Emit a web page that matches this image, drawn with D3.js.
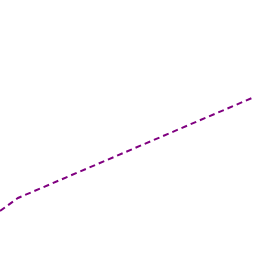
<!DOCTYPE html>
<html>
<head>
<meta charset="utf-8">
<script src="https://cdn.jsdelivr.net/npm/d3@7"></script>
<style>
  body { margin: 0; background: #fff; }
</style>
</head>
<body>
<svg class="chart"></svg>
<script>
// series values
var xValues = [0, 1.5, 21];
var yValues = [3.9, 5.2, 15.2];

var width = 256, height = 256;

var svg = d3.select(".chart")
  .attr("width", width)
  .attr("height", height);

var xScale = d3.scaleLinear()
  .domain([0, 21])
  .range([0, 252]);

var yScale = d3.scaleLinear()
  .domain([0, 25.6])
  .range([250, -6]);

var data = xValues.map(function(d, i){
  return {x: d, y: yValues[i]};
});

var line = d3.line()
  .x(function(d){ return xScale(d.x); })
  .y(function(d){ return yScale(d.y); });

svg.append("path")
  .datum(data)
  .attr("d", line)
  .attr("fill", "none")
  .attr("stroke", "#800080")
  .attr("stroke-width", 2)
  .attr("stroke-dasharray", "6,4");
</script>
</body>
</html>
